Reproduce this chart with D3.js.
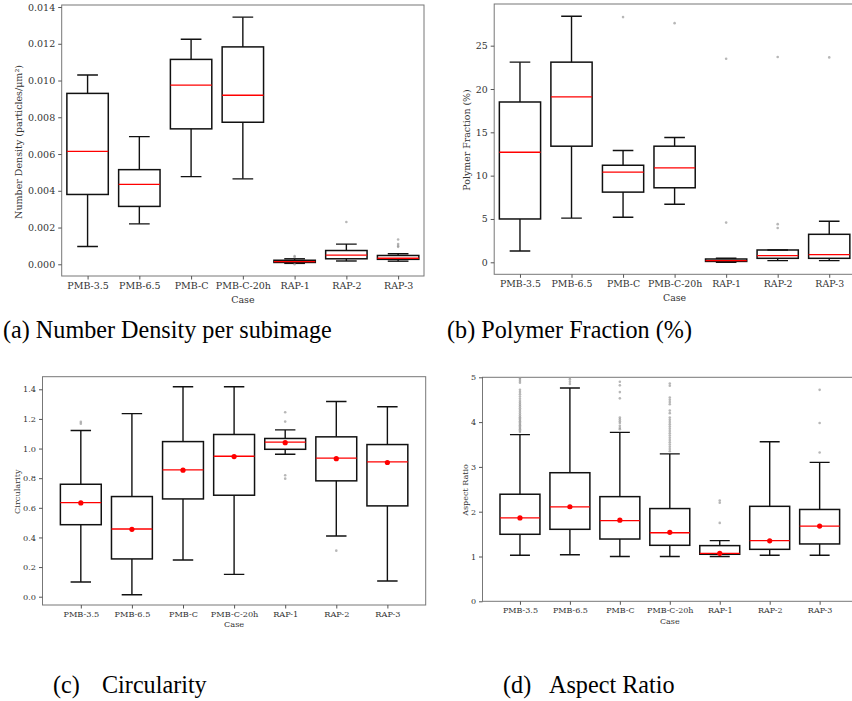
<!DOCTYPE html>
<html>
<head>
<meta charset="utf-8">
<script src="https://cdn.jsdelivr.net/npm/d3@7"></script>
<style>
  body { margin: 0; background: #fff; }
  svg { display: block; }
  .tick text { font-family: "DejaVu Serif", serif; fill: #333; }
  .cap { font-family: "Liberation Serif", "Times New Roman", serif; font-size: 26px; fill: #000; }
</style>
</head>
<body>
<svg width="852" height="701"></svg>
<script>
// categories
const cases = ["PMB-3.5", "PMB-6.5", "PMB-C", "PMB-C-20h", "RAP-1", "RAP-2", "RAP-3"];

// [lower whisker, q1, median, q3, upper whisker]
const densityStats = [
  [0.00097, 0.0038, 0.00615, 0.0093, 0.0103],
  [0.0022, 0.00315, 0.00435, 0.00515, 0.00695],
  [0.00477, 0.00737, 0.00975, 0.01115, 0.01225],
  [0.00465, 0.00773, 0.0092, 0.01183, 0.01345],
  [0.00005, 0.0001, 0.00015, 0.00022, 0.0003],
  [0.00018, 0.0003, 0.0005, 0.00075, 0.0011],
  [0.00017, 0.00027, 0.00033, 0.00048, 0.00057]
];
const densityOutliers = [[], [], [], [], [0.00045, 0.0004, 0.0], [0.0023], [0.00135, 0.0011, 0.001, 0.00095]];

const fractionStats = [
  [1.3, 5.0, 12.7, 18.5, 23.1],
  [5.1, 13.4, 19.1, 23.1, 28.4],
  [5.2, 8.1, 10.4, 11.2, 12.9],
  [6.7, 8.6, 10.9, 13.4, 14.4],
  [0.0, 0.1, 0.2, 0.38, 0.46],
  [0.19, 0.46, 0.77, 1.42, 1.42],
  [0.19, 0.46, 0.88, 3.23, 4.73]
];
const fractionOutliers = [[], [], [28.3], [27.6], [23.5, 4.58], [23.7, 4.4, 3.96], [23.65]];

const circStats = [
  [0.099, 0.486, 0.635, 0.759, 1.122],
  [0.0135, 0.255, 0.457, 0.676, 1.236],
  [0.248, 0.66, 0.856, 1.047, 1.417],
  [0.151, 0.685, 0.948, 1.095, 1.417],
  [0.962, 0.995, 1.043, 1.068, 1.126],
  [0.41, 0.782, 0.935, 1.079, 1.318],
  [0.106, 0.613, 0.91, 1.027, 1.282]
];
const circMeans = [0.633, 0.455, 0.854, 0.946, 1.04, 0.932, 0.906];
const circOutliers = [[1.18, 1.167], [], [], [], [1.245, 1.182, 0.82, 0.797], [0.311], []];

const aspectStats = [
  [1.027, 1.496, 1.86, 2.39, 3.72],
  [1.04, 1.607, 2.106, 2.87, 4.76],
  [1.0, 1.39, 1.8, 2.336, 3.77],
  [1.0, 1.25, 1.53, 2.07, 3.29],
  [1.0, 1.05, 1.07, 1.243, 1.354],
  [1.027, 1.16, 1.354, 2.12, 3.56],
  [1.027, 1.28, 1.68, 2.05, 3.1]
];
const aspectMeans = [1.86, 2.11, 1.81, 1.54, 1.07, 1.35, 1.68];
const aspectOutliers = [
  [3.78, 3.81, 3.84, 3.87, 3.9, 3.93, 3.96, 3.99, 4.02, 4.05, 4.08, 4.11, 4.15, 4.19, 4.23, 4.27, 4.31, 4.35, 4.39, 4.43, 4.47, 4.52, 4.57, 4.62, 4.67, 4.72, 4.88, 4.92, 4.96, 4.99],
  [4.85, 4.9, 4.95, 4.99],
  [4.9, 4.82, 4.67, 4.53, 4.1, 4.06, 4.02, 3.98, 3.92, 3.87, 3.84],
  [4.86, 4.81, 4.55, 4.5, 4.45, 4.4, 4.26, 4.2, 4.1, 4.05, 4.0, 3.95, 3.9, 3.85, 3.8, 3.75, 3.7, 3.65, 3.6, 3.55, 3.5, 3.45, 3.4, 3.35],
  [2.25, 2.2, 1.75],
  [],
  [4.72, 3.98, 3.32]
];

const svg = d3.select("svg");

function drawPanel(p) {
  const x = d3.scaleLinear().domain(p.xDomain).range([p.left, p.right]);
  const y = d3.scaleLinear().domain(p.yDomain).range([p.bottom, p.top]);
  const g = svg.append("g");
  const fs = p.fontSize;

  // frame
  g.append("rect").attr("x", p.left).attr("y", p.top)
    .attr("width", p.right - p.left).attr("height", p.bottom - p.top)
    .attr("fill", "none").attr("stroke", "#777").attr("stroke-width", 1);

  const yAxis = d3.axisLeft(y).tickValues(p.yTicks).tickFormat(d3.format(p.yFormat)).tickSize(3.5).tickPadding(3);
  const ya = g.append("g").attr("transform", `translate(${p.left},0)`).call(yAxis);
  const xAxis = d3.axisBottom(x).tickValues(d3.range(1, cases.length + 1)).tickFormat(i => cases[i - 1]).tickSize(3.5).tickPadding(3);
  const xa = g.append("g").attr("transform", `translate(0,${p.bottom})`).call(xAxis);
  [ya, xa].forEach(a => {
    a.select(".domain").remove();
    a.selectAll(".tick line").attr("stroke", "#555");
    a.selectAll(".tick text").style("font-size", fs + "px");
  });

  g.append("text").text("Case").attr("x", (x(1) + x(7)) / 2).attr("y", p.caseY)
    .attr("text-anchor", "middle").style("font-family", "DejaVu Serif, serif")
    .style("font-size", fs + "px").attr("fill", "#333");
  g.append("text").text(p.yLabel)
    .attr("transform", `translate(${p.yLabelX},${p.yLabelY}) rotate(-90)`)
    .attr("text-anchor", "middle").attr("dominant-baseline", "central")
    .style("font-family", "DejaVu Serif, serif").style("font-size", fs + "px").attr("fill", "#333");

  const clip = "clip" + p.id;
  svg.append("clipPath").attr("id", clip).append("rect")
    .attr("x", p.left).attr("y", p.top).attr("width", p.right - p.left).attr("height", p.bottom - p.top);
  const plot = g.append("g").attr("clip-path", `url(#${clip})`);

  const bw = 0.8, cw = 0.4;
  const boxes = plot.selectAll("g.box").data(p.stats).enter().append("g");
  boxes.each(function (s, i) {
    const b = d3.select(this);
    const c = i + 1;
    const line = (x1, y1, x2, y2, col, w) => b.append("line")
      .attr("x1", x(x1)).attr("x2", x(x2)).attr("y1", y(y1)).attr("y2", y(y2))
      .attr("stroke", col).attr("stroke-width", w);
    line(c, s[0], c, s[1], "#111", 1.4);
    line(c, s[3], c, s[4], "#111", 1.4);
    line(c - cw / 2, s[0], c + cw / 2, s[0], "#111", 1.4);
    line(c - cw / 2, s[4], c + cw / 2, s[4], "#111", 1.4);
    b.append("rect").attr("x", x(c - bw / 2)).attr("y", y(s[3]))
      .attr("width", x(c + bw / 2) - x(c - bw / 2)).attr("height", Math.max(0.5, y(s[1]) - y(s[3])))
      .attr("fill", "none").attr("stroke", "#111").attr("stroke-width", 1.5);
    line(c - bw / 2, s[2], c + bw / 2, s[2], "#f00", 1.3);
    (p.outliers[i] || []).forEach(v => {
      b.append("circle").attr("cx", x(c)).attr("cy", y(v)).attr("r", 1.3)
        .attr("fill", "#999").attr("fill-opacity", 0.7);
    });
    if (p.means) {
      b.append("circle").attr("cx", x(c)).attr("cy", y(p.means[i])).attr("r", 2.6).attr("fill", "#f00");
    }
  });
}

drawPanel({
  id: "a", stats: densityStats, outliers: densityOutliers,
  left: 61.7, right: 424, top: 5, bottom: 276,
  xDomain: [0.5, 7.5], yDomain: [-0.000637, 0.01411],
  yTicks: d3.range(0, 0.0141, 0.002), yFormat: ".3f", fontSize: 9.5,
  yLabel: "Number Density (particles/\u03bcm\u00b2)", yLabelX: 18, yLabelY: 142, caseY: 303
});
drawPanel({
  id: "b", stats: fractionStats, outliers: fractionOutliers,
  left: 494.2, right: 855, top: 4, bottom: 274.3,
  xDomain: [0.5, 7.5], yDomain: [-1.385, 29.81],
  yTicks: [0, 5, 10, 15, 20, 25], yFormat: "d", fontSize: 9.4,
  yLabel: "Polymer Fraction (%)", yLabelX: 466.7, yLabelY: 140, caseY: 300.5
});
drawPanel({
  id: "c", stats: circStats, outliers: circOutliers, means: circMeans,
  left: 42.5, right: 425.7, top: 376.7, bottom: 605,
  xDomain: [0.25, 7.75], yDomain: [-0.056, 1.485],
  yTicks: d3.range(0, 1.41, 0.2), yFormat: ".1f", fontSize: 8.2,
  yLabel: "Circularity", yLabelX: 17, yLabelY: 491.7, caseY: 627
});
drawPanel({
  id: "d", stats: aspectStats, outliers: aspectOutliers, means: aspectMeans,
  left: 482.5, right: 857.1, top: 377.3, bottom: 601.3,
  xDomain: [0.25, 7.75], yDomain: [0, 5],
  yTicks: [0, 1, 2, 3, 4, 5], yFormat: "d", fontSize: 8,
  yLabel: "Aspect Ratio", yLabelX: 465, yLabelY: 490, caseY: 624
});

// captions (slightly condensed, like the reference)
const caption = (x, y, t) => svg.append("text").attr("class", "cap")
  .attr("transform", `translate(${x},${y}) scale(0.93,1)`).text(t);
caption(3, 338, "(a) Number Density per subimage");
caption(447, 338, "(b) Polymer Fraction (%)");
caption(53, 693, "(c)");
caption(102, 693, "Circularity");
caption(503, 693, "(d)");
caption(549, 693, "Aspect Ratio");
</script>
</body>
</html>
